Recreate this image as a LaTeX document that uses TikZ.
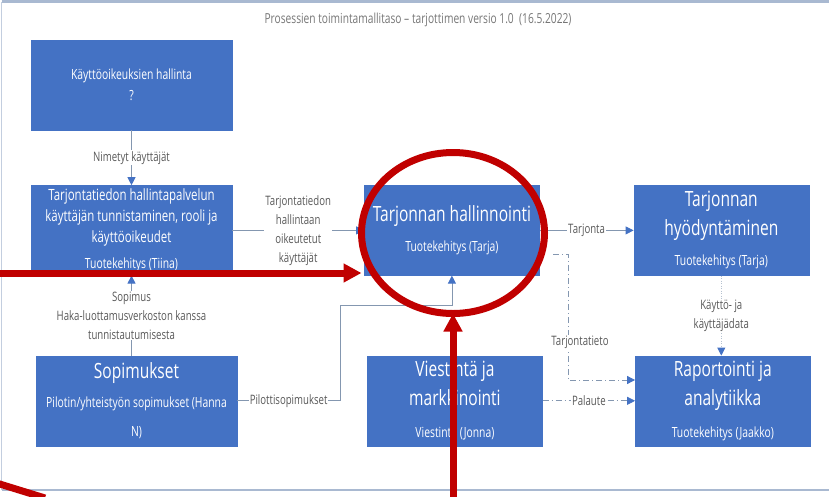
\documentclass[tikz,border=0pt]{standalone}
\usepackage{fontspec}
\setmainfont{Open Sans}[FakeStretch=0.74]
\usetikzlibrary{positioning,arrows.meta,shapes.geometric}
\definecolor{boxblue}{HTML}{4472C4}
\definecolor{linegray}{HTML}{8497B0}
\definecolor{labelgray}{HTML}{595959}
\definecolor{titlegray}{HTML}{767676}
\definecolor{redmark}{HTML}{C00000}
\definecolor{framecol}{HTML}{A9B9D1}
\newcommand\bigtxt{\fontsize{21}{29}\selectfont}
\newcommand\midtxt{\fontsize{15.5}{21}\selectfont}
\newcommand\subtxt{\fontsize{14}{21}\selectfont}
\newcommand\lbltxt{\fontsize{13}{19}\selectfont}

\begin{document}
\begin{tikzpicture}[x=1pt,y=-1pt,block/.style={draw=boxblue, fill=boxblue, text=white, rectangle, minimum height=90pt, minimum width=175pt, align=center, inner sep=2pt, font=\bigtxt},wblock/.style={block, minimum width=201pt},lbl/.style={fill=white, text=labelgray, inner sep=1pt, align=center, font=\lbltxt},conn/.style={draw=linegray, line width=0.8pt, -{Triangle[length=8pt,width=8pt,color=boxblue]}},dconn/.style={conn, dash pattern=on 6pt off 3pt on 1pt off 3pt},dotconn/.style={conn, draw=linegray!60, dash pattern=on 1pt off 1.5pt},redline/.style={draw=redmark, line width=7pt},redarrow/.style={redline, -{Triangle[length=18pt,width=18pt]}}]
    \useasboundingbox (0,0) rectangle (829,496);
    % frame and title
    \draw[framecol, line width=3pt] (1.5,1.5) -- (835,1.5);
    \draw[framecol!70, line width=1pt] (1.5,1.5) -- (1.5,490);
    \draw[framecol, line width=2pt] (1.5,490) -- (835,490);
    \node[text=titlegray, font=\fontsize{13.8}{16}\selectfont] (title) at (418,20) {Prosessien toimintamallitaso – tarjottimen versio 1.0~~(16.5.2022)};
    % blocks
    \node[wblock, font=\subtxt] (kaytto) at (131.5,85) {Käyttöoikeuksien hallinta\\?};
    \node[wblock, font=\midtxt, below=55pt of kaytto] (tunnistus) {Tarjontatiedon hallintapalvelun\\käyttäjän tunnistaminen, rooli ja\\käyttöoikeudet\\[5pt]{\subtxt Tuotekehitys (Tiina)}};
    \node[block, right=132pt of tunnistus] (hallinnointi) {Tarjonnan hallinnointi\\[1pt]{\subtxt Tuotekehitys (Tarja)}};
    \node[block, right=94pt of hallinnointi] (hyodyntaminen) {Tarjonnan\\hyödyntäminen\\[1pt]{\subtxt Tuotekehitys (Tarja)}};
    \node[wblock, below=80pt of tunnistus, xshift=5pt] (sopimukset) {Sopimukset\\{\subtxt Pilotin/yhteistyön sopimukset (Hanna}\\{\subtxt N)}};
    \node[block, below=80pt of hallinnointi, xshift=3pt] (viestinta) {Viestintä ja\\markkinointi\\[3pt]{\subtxt Viestintä (Jonna)}};
    \node[block, below=80pt of hyodyntaminen, xshift=1.5pt] (raportointi) {Raportointi ja\\analytiikka\\[3pt]{\subtxt Tuotekehitys (Jaakko)}};
    % arrows
    \draw[conn] (kaytto) -- node[lbl]{Nimetyt käyttäjät} (tunnistus);
    \draw[conn] (tunnistus) -- node[lbl]{Tarjontatiedon\\hallintaan\\oikeutetut\\käyttäjät} (hallinnointi);
    \draw[conn] (hallinnointi) -- node[lbl]{Tarjonta} (hyodyntaminen);
    \draw[conn] (sopimukset.north -| tunnistus.south) -- node[lbl]{Sopimus\\Haka-luottamusverkoston kanssa\\tunnistautumisesta} (tunnistus.south);
    \coordinate (pbend) at (340,305);
    \draw[conn] (sopimukset.east) -- node[lbl]{Pilottisopimukset} (sopimukset.east -| pbend) -- (pbend) -| (hallinnointi.south);
    \draw[dotconn] (hyodyntaminen.south) -- node[lbl]{Käyttö- ja\\käyttäjädata} (hyodyntaminen.south |- raportointi.north);
    % dashed feeds into reporting
    \coordinate (tstart) at (553,254);
    \coordinate (tbend) at (568,380);
    \draw[dconn] (tstart) -- (tstart -| tbend) -- node[lbl, pos=0.7, xshift=12pt]{Tarjontatieto} (tbend) -- (tbend -| raportointi.west);
    \draw[dconn] (viestinta) -- node[lbl]{Palaute} (raportointi);
    % red markings
    \node[draw=redmark, line width=7pt, ellipse, minimum width=183pt, minimum height=161pt, inner sep=0pt, outer sep=0pt] (ring) at (453,233) {};
    \coordinate (redleft) at (-10,273);
    \coordinate (redbottom) at (453,505);
    \draw[redarrow] (redleft) -- (redleft -| ring.west);
    \draw[redarrow] (redbottom) -- (ring.south);
    \draw[redline] (-10,481) -- (45,498);
\end{tikzpicture}
\end{document}
